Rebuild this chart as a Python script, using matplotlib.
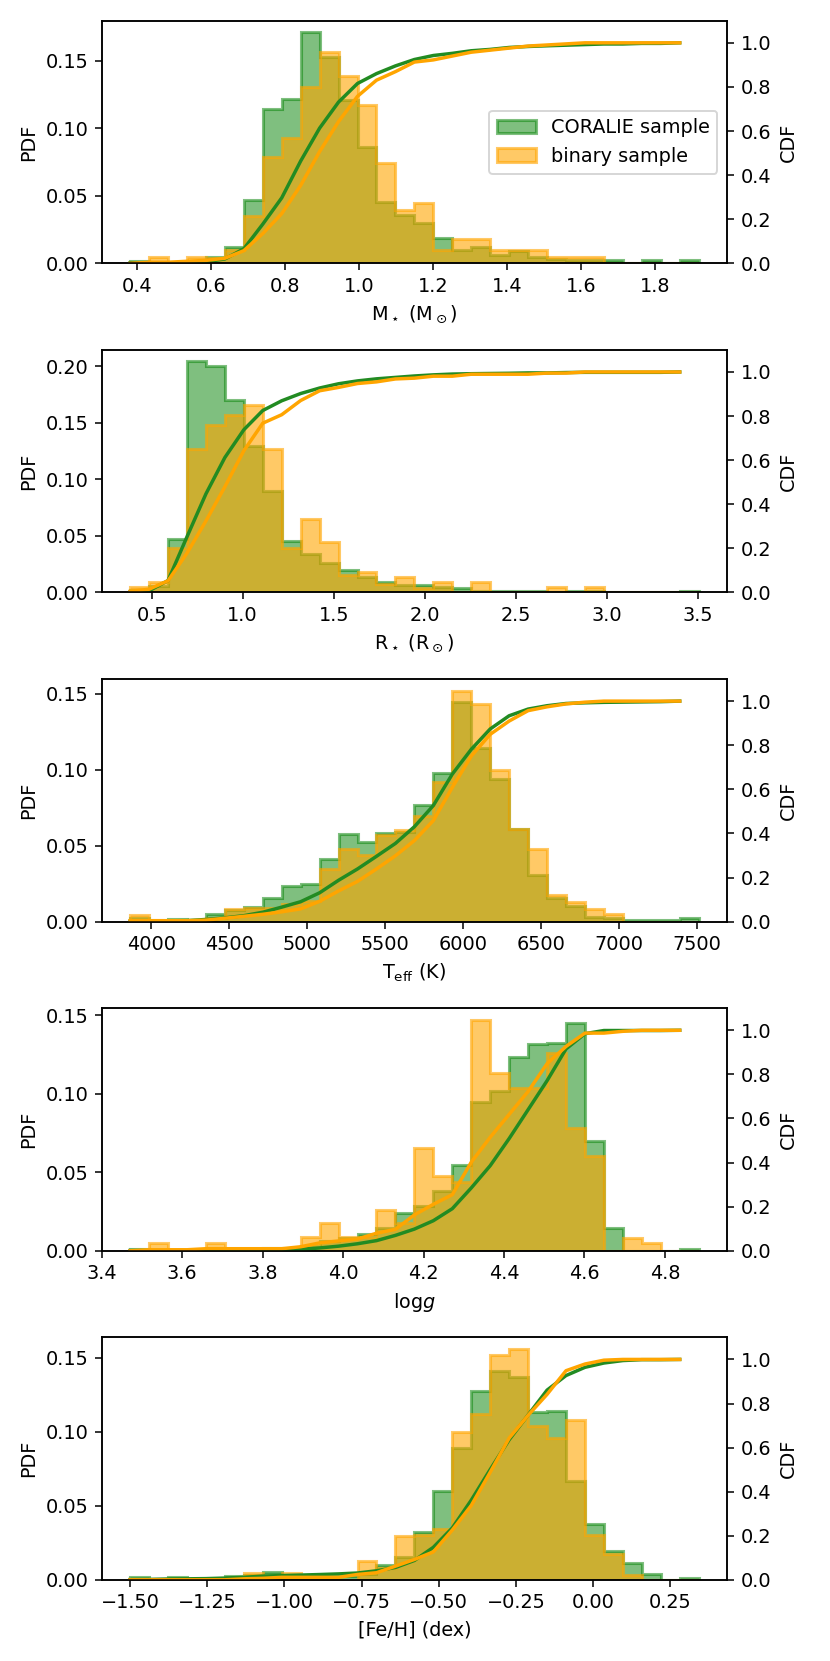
import numpy as np
import matplotlib
matplotlib.use("Agg")
import matplotlib.pyplot as plt

# ---- data: 30 equal-width bins per panel, fraction of stars per bin ----
mass_range = (0.381, 1.917)
mass_coralie = [0.0018, 0.0, 0.0, 0.001, 0.005, 0.0124, 0.047, 0.1146, 0.122, 0.171,
                0.1528, 0.121, 0.0863, 0.0457, 0.0358, 0.0297, 0.0186, 0.010, 0.012, 0.0063,
                0.009, 0.0046, 0.0032, 0.0028, 0.0028, 0.0028, 0.0, 0.0027, 0.0, 0.0027]
mass_binary = [0.0, 0.005, 0.0, 0.0045, 0.004, 0.010, 0.035, 0.079, 0.0925, 0.1306,
               0.1565, 0.139, 0.117, 0.0745, 0.0395, 0.0444, 0.010, 0.0178, 0.0178, 0.0095,
               0.0095, 0.0095, 0.005, 0.005, 0.005, 0.0, 0.0, 0.0, 0.0, 0.0]

radius_range = (0.382, 3.504)
radius_coralie = [0.002, 0.006, 0.0476, 0.2044, 0.2006, 0.170, 0.1297, 0.090, 0.0455, 0.0339,
                  0.0257, 0.0199, 0.0134, 0.0096, 0.0067, 0.0067, 0.0052, 0.0037, 0.0017, 0.001,
                  0.001, 0.0017, 0.0, 0.0017, 0.001, 0.0, 0.0, 0.0, 0.0, 0.0017]
radius_binary = [0.0052, 0.0096, 0.039, 0.1267, 0.148, 0.157, 0.1657, 0.1267, 0.039, 0.0652,
                 0.0448, 0.0155, 0.0178, 0.0076, 0.0134, 0.0037, 0.009, 0.0, 0.009, 0.0,
                 0.0, 0.0, 0.0052, 0.0, 0.0052, 0.0, 0.0, 0.0, 0.0, 0.0]

teff_range = (3865.0, 7513.0)
teff_coralie = [0.0022, 0.0, 0.0015, 0.001, 0.0053, 0.0075, 0.0099, 0.0158, 0.0235, 0.025,
                0.0411, 0.0576, 0.0521, 0.0582, 0.0593, 0.0769, 0.0976, 0.1444, 0.114, 0.0938,
                0.0609, 0.0308, 0.0154, 0.0103, 0.0031, 0.0022, 0.001, 0.0011, 0.0011, 0.0024]
teff_binary = [0.0044, 0.0, 0.0, 0.0, 0.0026, 0.0086, 0.0088, 0.0092, 0.0114, 0.0136,
               0.0345, 0.0477, 0.0437, 0.0571, 0.0604, 0.0697, 0.0916, 0.152, 0.1433, 0.100,
               0.0609, 0.0477, 0.0176, 0.0132, 0.0081, 0.0048, 0.0, 0.0, 0.0, 0.0]

logg_range = (3.4706, 4.884)
logg_coralie = [0.0011, 0.0, 0.0, 0.0, 0.0, 0.0, 0.0, 0.0015, 0.001, 0.003,
                0.0064, 0.0081, 0.011, 0.0143, 0.024, 0.0287, 0.0383, 0.0549, 0.0947, 0.1017,
                0.1238, 0.1319, 0.1323, 0.1451, 0.0698, 0.0145, 0.0, 0.0, 0.0, 0.0011]
logg_binary = [0.0, 0.0047, 0.0, 0.0, 0.0047, 0.0, 0.0, 0.0, 0.0, 0.0089,
               0.0174, 0.0089, 0.0089, 0.026, 0.018, 0.0653, 0.0479, 0.0436, 0.1472, 0.1132,
               0.1038, 0.1038, 0.126, 0.0783, 0.0606, 0.0, 0.0081, 0.0047, 0.0, 0.0]

feh_range = (-1.5, 0.342)
feh_coralie = [0.0018, 0.0007, 0.0018, 0.0009, 0.0009, 0.0025, 0.0034, 0.0056, 0.0025, 0.0023,
               0.0025, 0.0029, 0.0041, 0.0101, 0.0153, 0.0322, 0.0604, 0.089, 0.1275, 0.141,
               0.1369, 0.1137, 0.1144, 0.0671, 0.0378, 0.0198, 0.0113, 0.0041, 0.0, 0.0011]
feh_binary = [0.0007, 0.0, 0.0, 0.0, 0.0, 0.0, 0.0045, 0.0023, 0.0045, 0.0,
              0.0, 0.0, 0.0131, 0.0079, 0.030, 0.0306, 0.0345, 0.0998, 0.1122, 0.152,
              0.1561, 0.1043, 0.0957, 0.1081, 0.0306, 0.0176, 0.0034, 0.0, 0.0, 0.0]

xlabels = [r"M$_\star$ (M$_\odot$)", r"R$_\star$ (R$_\odot$)", r"T$_{\rm eff}$ (K)",
           r"log$g$", "[Fe/H] (dex)"]
labels = ["CORALIE sample", "binary sample"]

panels = [
    (mass_range, mass_coralie, mass_binary),
    (radius_range, radius_coralie, radius_binary),
    (teff_range, teff_coralie, teff_binary),
    (logg_range, logg_coralie, logg_binary),
    (feh_range, feh_coralie, feh_binary),
]

DPI = 138.4
fig, axes = plt.subplots(5, 1, figsize=(830 / DPI, 1661 / DPI), dpi=DPI)
fig.subplots_adjust(left=0.1225, right=0.876, top=0.9875, bottom=0.0488, hspace=0.357)

for ax, (rng, coralie, binary), xlabel in zip(axes, panels, xlabels):
    coralie = np.asarray(coralie, dtype=float)
    binary = np.asarray(binary, dtype=float)
    edges = np.linspace(rng[0], rng[1], len(coralie) + 1)
    ax.stairs(coralie, edges, fill=True, facecolor="green", edgecolor="green",
              alpha=0.5, linewidth=1.6, label=labels[0])
    ax.stairs(binary, edges, fill=True, facecolor="orange", edgecolor="orange",
              alpha=0.6, linewidth=1.6, label=labels[1])
    ax.set_ylabel("PDF")
    ax.set_xlabel(xlabel)

    ax2 = ax.twinx()
    cdf_c = np.cumsum(coralie) / np.sum(coralie)
    cdf_b = np.cumsum(binary) / np.sum(binary)
    ax2.plot(edges[:-1], cdf_c, color="forestgreen", linewidth=1.8)
    ax2.plot(edges[:-1], cdf_b, color="orange", linewidth=1.8)
    ax2.set_ylim(0, 1.1)
    ax2.set_ylabel("CDF")

axes[0].legend(loc="center right")

fig.savefig("out.png", dpi=DPI)
